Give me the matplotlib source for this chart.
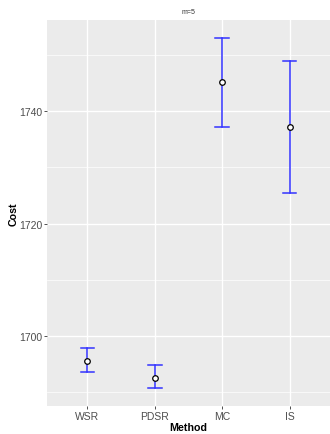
import matplotlib
matplotlib.use('Agg')
import matplotlib.pyplot as plt
from matplotlib.ticker import MultipleLocator

# Data
methods = ['WSR', 'PDSR', 'MC', 'IS']
mean_cost = [1695.5, 1692.5, 1745.2, 1737.3]
lower_cost = [1693.4, 1690.55, 1737.3, 1725.4]
upper_cost = [1697.7, 1694.65, 1753.2, 1749.0]
y_ticks = [1700, 1720, 1740]

plt.rcParams['font.family'] = ['Liberation Sans', 'DejaVu Sans']

fig = plt.figure(figsize=(3.3, 4.35), dpi=100)
ax = fig.add_axes([47 / 330, 28 / 435, 283 / 330, 386 / 435])
ax.set_facecolor('#EBEBEB')

x = list(range(1, len(methods) + 1))

# Error bars (vertical line + caps in data units)
cap = 0.1
for xi, lo, hi in zip(x, lower_cost, upper_cost):
    ax.plot([xi, xi], [lo, hi], color='#3333FF', lw=1.1, zorder=3)
    ax.plot([xi - cap, xi + cap], [lo, lo], color='#3333FF', lw=1.1, zorder=3)
    ax.plot([xi - cap, xi + cap], [hi, hi], color='#3333FF', lw=1.1, zorder=3)

ax.plot(x, mean_cost, 'o', markerfacecolor='white', markeredgecolor='black',
        markersize=4.0, markeredgewidth=0.9, zorder=4)

# Limits with ggplot-like expansion
lo_all, hi_all = min(lower_cost), max(upper_cost)
pad = 0.05 * (hi_all - lo_all)
ax.set_ylim(lo_all - pad, hi_all + pad)
ax.set_xlim(0.4, len(methods) + 0.6)

ax.set_xticks(x)
ax.set_xticklabels(methods)
ax.set_yticks(y_ticks)
ax.yaxis.set_minor_locator(MultipleLocator(10))
ax.xaxis.set_minor_locator(MultipleLocator(1000))

ax.grid(which='major', color='white', lw=1.0)
ax.grid(which='minor', axis='y', color='white', lw=0.5)
ax.set_axisbelow(True)
for s in ax.spines.values():
    s.set_visible(False)

ax.tick_params(which='major', length=2, width=0.6, color='#333333',
               labelsize=7.5, labelcolor='#4D4D4D', pad=1.5)
ax.tick_params(which='minor', length=0)

ax.set_xlabel('Method', fontsize=7.7, fontweight='bold', labelpad=1)
ax.set_ylabel('Cost', fontsize=7.7, fontweight='bold', labelpad=0)
ax.set_title('m=5', fontsize=5, color='#333333', pad=5)

fig.savefig('out.png', dpi=100)
